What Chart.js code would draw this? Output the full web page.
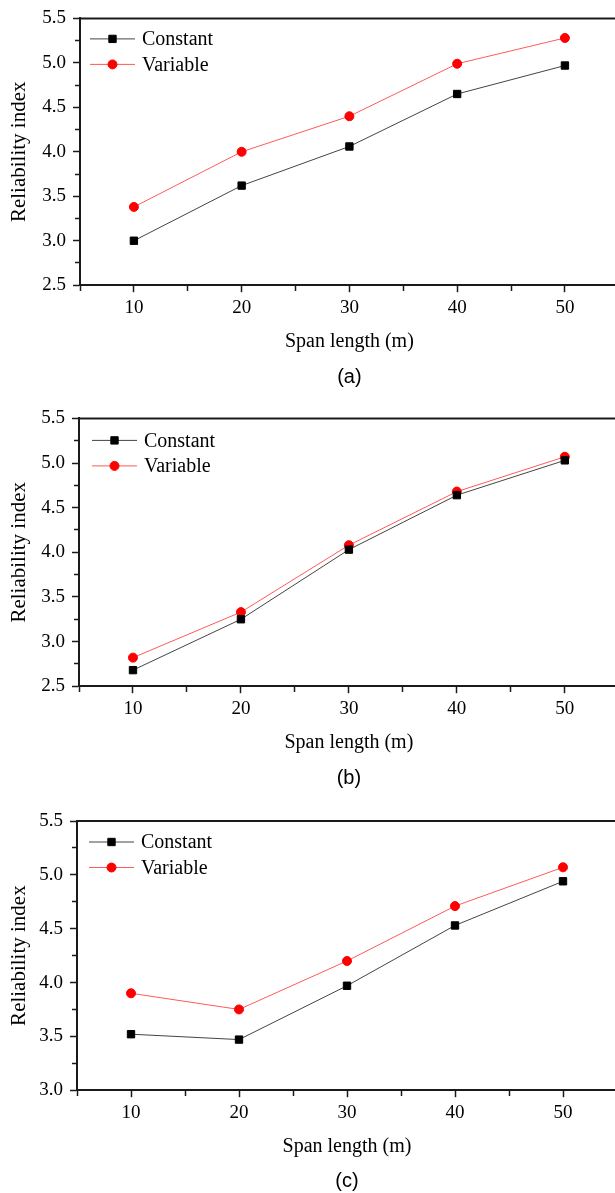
<!DOCTYPE html>
<html><head><meta charset="utf-8">
<script src="https://cdn.jsdelivr.net/npm/chart.js@4.4.1/dist/chart.umd.min.js"></script>
<style>
html,body{margin:0;padding:0;background:#fff;overflow:hidden;width:615px;height:1193px}
canvas{display:block}
</style></head>
<body>
<canvas id="ca" width="625" height="400"></canvas>
<canvas id="cb" width="625" height="400"></canvas>
<canvas id="cc" width="625" height="393"></canvas>
<script>
// ---- data ----
const spanLengths = [10, 20, 30, 40, 50];
const seriesNames = ['Constant', 'Variable'];
const constantA = [3.00, 3.62, 4.06, 4.65, 4.97];
const variableA = [3.38, 4.00, 4.40, 4.99, 5.28];
const constantB = [2.68, 3.25, 4.03, 4.64, 5.03];
const variableB = [2.82, 3.33, 4.08, 4.68, 5.07];
const constantC = [3.52, 3.47, 3.97, 4.53, 4.94];
const variableC = [3.90, 3.75, 4.20, 4.71, 5.07];
const panelLabels = ['(a)', '(b)', '(c)'];
const yMins = [2.5, 2.5, 3.0];
const yMax = 5.5;
const xMin = 5, xMax = 55;
const xTitle = 'Span length (m)';
const yTitle = 'Reliability index';

const AX = '#1a1a1a';
const SERIF = "'Liberation Serif', 'Times New Roman', serif";
const SANS = "'Liberation Sans', Arial, sans-serif";

const isMajorY = v => Math.abs(v * 2 - Math.round(v * 2)) < 1e-6;
const isMajorX = v => Math.abs(v / 10 - Math.round(v / 10)) < 1e-6;

const frameTop = {
  id: 'frameTop',
  beforeDatasetsDraw(chart) {
    const {ctx, chartArea: a} = chart;
    ctx.save();
    ctx.strokeStyle = AX; ctx.lineWidth = 2;
    ctx.beginPath(); ctx.moveTo(a.left, a.top); ctx.lineTo(a.right + 2, a.top); ctx.stroke();
    ctx.restore();
  }
};

const insideLegend = {
  id: 'insideLegend',
  afterDraw(chart, args, opts) {
    const {ctx, chartArea: a} = chart;
    ctx.save();
    chart.data.datasets.forEach((ds, i) => {
      const y = a.top + opts.dy + i * opts.step;
      const x0 = a.left + opts.dx;
      ctx.strokeStyle = ds.borderColor; ctx.lineWidth = 1;
      ctx.beginPath(); ctx.moveTo(x0, y); ctx.lineTo(x0 + 45, y); ctx.stroke();
      ctx.fillStyle = ds.pointBackgroundColor; ctx.strokeStyle = ds.pointBorderColor;
      ctx.lineWidth = 1;
      Chart.helpers.drawPoint(ctx, {pointStyle: ds.pointStyle, radius: ds.pointRadius, borderWidth: 1, rotation: 0}, x0 + 22.5, y);
      ctx.fillStyle = '#000';
      ctx.font = '20px ' + SERIF;
      ctx.textBaseline = 'middle'; ctx.textAlign = 'left';
      ctx.fillText(ds.label, x0 + 52, y + 1);
    });
    ctx.restore();
  }
};

function makeChart(id, idx, cons, vari, cfg) {
  const pts = arr => spanLengths.map((x, i) => ({x: x, y: arr[i]}));
  return new Chart(document.getElementById(id), {
    type: 'line',
    data: {
      datasets: [
        {label: seriesNames[0], data: pts(cons), borderColor: '#444444', borderWidth: 1,
         pointStyle: 'rect', pointRadius: 5.2, pointBackgroundColor: '#000', pointBorderColor: '#000', pointBorderWidth: 1, tension: 0},
        {label: seriesNames[1], data: pts(vari), borderColor: '#ff5a5a', borderWidth: 1,
         pointStyle: 'circle', pointRadius: 4.5, pointBackgroundColor: '#ff0000', pointBorderColor: '#ff0000', pointBorderWidth: 1, tension: 0}
      ]
    },
    options: {
      responsive: false, animation: false, devicePixelRatio: 1,
      layout: {padding: {left: 0, right: cfg.padRight, top: cfg.padTop, bottom: 0}},
      plugins: {
        legend: {display: false},
        tooltip: {enabled: false},
        title: {display: true, position: 'bottom', fullSize: false, text: panelLabels[idx], color: '#000',
                font: {family: SANS, size: 20, weight: 'normal'}, padding: {top: cfg.tTop, bottom: cfg.tBot}},
        insideLegend: {dx: cfg.lgDx, dy: cfg.lgDy, step: 25.5}
      },
      scales: {
        x: {
          type: 'linear', min: xMin, max: xMax,
          border: {display: true, color: AX, width: 2},
          grid: {display: true, drawOnChartArea: false, drawTicks: true, tickLength: 7, tickColor: AX, tickWidth: 1.5,
                 tickBorderDash: c => (c.tick && isMajorX(c.tick.value)) ? [] : [5, 30]},
          ticks: {stepSize: 5, padding: 4, color: '#000', font: {family: SERIF, size: 19},
                  maxRotation: 0, autoSkip: false,
                  callback: v => (isMajorX(v) && v >= 10 && v <= 50) ? String(v) : ''},
          title: {display: true, text: xTitle, color: '#000', font: {family: SERIF, size: 20}, padding: {top: 7, bottom: 0}}
        },
        y: {
          type: 'linear', min: yMins[idx], max: yMax,
          afterFit: s => { s.width = cfg.axisLeft; },
          border: {display: true, color: AX, width: 2},
          grid: {display: true, drawOnChartArea: false, drawTicks: true, tickLength: 7, tickColor: AX, tickWidth: 1.5,
                 tickBorderDash: c => (c.tick && isMajorY(c.tick.value)) ? [] : [0, 2, 30, 0]},
          ticks: {stepSize: 0.25, padding: 7, color: '#000', font: {family: SERIF, size: 19}, autoSkip: false,
                  callback: v => isMajorY(v) ? v.toFixed(1) : ''},
          title: {display: true, text: yTitle, color: '#000', font: {family: SERIF, size: 21}, padding: {top: 7, bottom: 0}}
        }
      }
    },
    plugins: [frameTop, insideLegend]
  });
}

makeChart('ca', 0, constantA, variableA, {padTop: 16, padRight: 5, axisLeft: 80, tTop: 11, tBot: 11, lgDx: 10, lgDy: 20.5});
makeChart('cb', 1, constantB, variableB, {padTop: 17, padRight: 6, axisLeft: 79, tTop: 11, tBot: 10, lgDx: 13, lgDy: 22});
makeChart('cc', 2, constantC, variableC, {padTop: 21, padRight: 8, axisLeft: 77, tTop: 10, tBot: 0, lgDx: 12, lgDy: 21});
</script>
</body></html>
